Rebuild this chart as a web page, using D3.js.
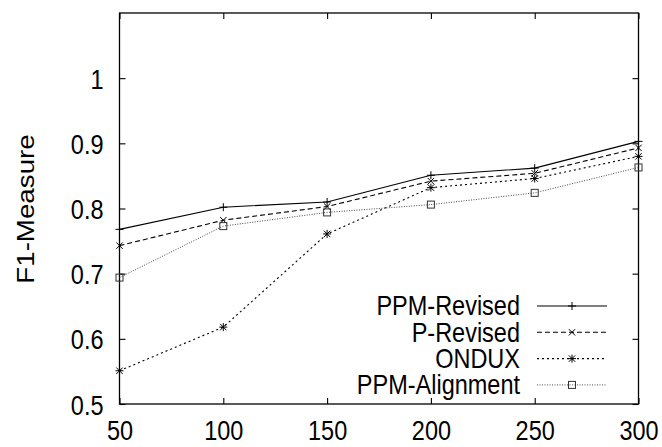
<!DOCTYPE html>
<html>
<head>
<meta charset="utf-8">
<script src="https://cdn.jsdelivr.net/npm/d3@7"></script>
<style>
  html, body { margin: 0; padding: 0; background: #fff; }
  svg { display: block; font-family: "Liberation Sans", Arial, Helvetica, sans-serif; }
</style>
</head>
<body>
<svg id="chart" width="662" height="447"></svg>
<script>
const xValues = [50, 100, 150, 200, 250, 300];
const seriesNames = ["PPM-Revised", "P-Revised", "ONDUX", "PPM-Alignment"];
const ppmRevised   = [0.768, 0.802, 0.810, 0.851, 0.862, 0.903];
const pRevised     = [0.743, 0.782, 0.803, 0.842, 0.854, 0.893];
const ondux        = [0.551, 0.618, 0.761, 0.832, 0.846, 0.880];
const ppmAlignment = [0.694, 0.773, 0.794, 0.806, 0.824, 0.863];
const xTicks = [50, 100, 150, 200, 250, 300];
const yTicks = [0.5, 0.6, 0.7, 0.8, 0.9, 1];
const yLabel = "F1-Measure";

const seriesValues = [ppmRevised, pRevised, ondux, ppmAlignment];
const styles = [
  { dash: null,  marker: "plus",   color: "#000", width: 1.1 },
  { dash: "5,3", marker: "cross",  color: "#000", width: 1.1 },
  { dash: "2,3", marker: "star",   color: "#000", width: 1.1 },
  { dash: "1,1.5", marker: "square", color: "#333", width: 0.9 }
];

const FS = 23.5, K = 1.18; // font size and vertical stretch of the reference text

const svg = d3.select("#chart");
const mLeft = 119.5, mRight = 638.5, mTop = 13, mBottom = 404;
const x = d3.scaleLinear().domain([50, 300]).range([mLeft, mRight]);
const y = d3.scaleLinear().domain([0.5, 1.1]).range([mBottom, mTop]);

svg.append("rect").attr("x", mLeft).attr("y", mTop)
  .attr("width", mRight - mLeft).attr("height", mBottom - mTop)
  .attr("fill", "none").attr("stroke", "#000").attr("stroke-width", 1.3);

const tickLen = 6;
const fmtY = d => d === 1 ? "1" : d3.format(".1f")(d);

const axB = svg.append("g").attr("transform", `translate(0,${mBottom})`)
  .call(d3.axisBottom(x).tickValues(xTicks).tickSizeInner(-tickLen).tickSizeOuter(0));
const axT = svg.append("g").attr("transform", `translate(0,${mTop})`)
  .call(d3.axisTop(x).tickValues(xTicks).tickSizeInner(-tickLen).tickSizeOuter(0).tickFormat(""));
const axL = svg.append("g").attr("transform", `translate(${mLeft},0)`)
  .call(d3.axisLeft(y).tickValues(yTicks).tickSizeInner(-tickLen).tickSizeOuter(0).tickFormat(fmtY));
const axR = svg.append("g").attr("transform", `translate(${mRight},0)`)
  .call(d3.axisRight(y).tickValues(yTicks).tickSizeInner(-tickLen).tickSizeOuter(0).tickFormat(""));

[axB, axT, axL, axR].forEach(g => {
  g.select(".domain").remove();
  g.selectAll(".tick line").attr("stroke", "#000").attr("stroke-width", 1.1);
  g.selectAll("text").attr("font-size", FS).attr("fill", "#000")
    .attr("font-family", "'Liberation Sans', Arial, sans-serif");
});
// stretched tick labels, baseline kept in place
axB.selectAll(".tick text").attr("dy", null).attr("y", 36)
  .attr("transform", `translate(0,36) scale(1,${K}) translate(0,-36)`);
axL.selectAll(".tick text").attr("dy", null).attr("x", -16).attr("y", 10)
  .attr("transform", `translate(0,10) scale(1,${K}) translate(0,-10)`);

svg.append("text")
  .attr("transform", `translate(34,209) rotate(-90) scale(${K},1)`)
  .attr("text-anchor", "middle").attr("font-size", FS).attr("fill", "#000")
  .text(yLabel);

function drawMarker(g, type, cx, cy, color) {
  const s = 4;
  const m = g.append("g").attr("transform", `translate(${cx},${cy})`)
    .attr("stroke", color).attr("stroke-width", 1).attr("fill", "none");
  if (type === "plus" || type === "star") {
    m.append("line").attr("x1", -s).attr("x2", s).attr("y1", 0).attr("y2", 0);
    m.append("line").attr("x1", 0).attr("x2", 0).attr("y1", -s).attr("y2", s);
  }
  if (type === "cross" || type === "star") {
    m.append("line").attr("x1", -s*0.8).attr("x2", s*0.8).attr("y1", -s*0.8).attr("y2", s*0.8);
    m.append("line").attr("x1", -s*0.8).attr("x2", s*0.8).attr("y1", s*0.8).attr("y2", -s*0.8);
  }
  if (type === "square") {
    m.append("rect").attr("x", -3.5).attr("y", -3.5).attr("width", 7).attr("height", 7);
  }
}

const line = d3.line().x((d, i) => x(xValues[i])).y(d => y(d));

seriesValues.forEach((vals, si) => {
  const st = styles[si];
  const g = svg.append("g");
  g.append("path").datum(vals).attr("d", line)
    .attr("fill", "none").attr("stroke", st.color).attr("stroke-width", st.width)
    .attr("stroke-dasharray", st.dash);
  vals.forEach((v, i) => drawMarker(g, st.marker, x(xValues[i]), y(v), st.color));
});

const legY0 = 306, legStep = 26.3;
seriesNames.forEach((name, si) => {
  const st = styles[si];
  const ly = legY0 + si * legStep;
  const by = ly + 9.5;
  svg.append("text").attr("x", 520).attr("y", by)
    .attr("transform", `translate(0,${by}) scale(1,${K}) translate(0,${-by})`)
    .attr("text-anchor", "end").attr("font-size", FS).attr("fill", "#000").text(name);
  svg.append("line").attr("x1", 537).attr("x2", 607).attr("y1", ly).attr("y2", ly)
    .attr("stroke", st.color).attr("stroke-width", st.width).attr("stroke-dasharray", st.dash);
  drawMarker(svg, st.marker, 572, ly, st.color);
});
</script>
</body>
</html>
